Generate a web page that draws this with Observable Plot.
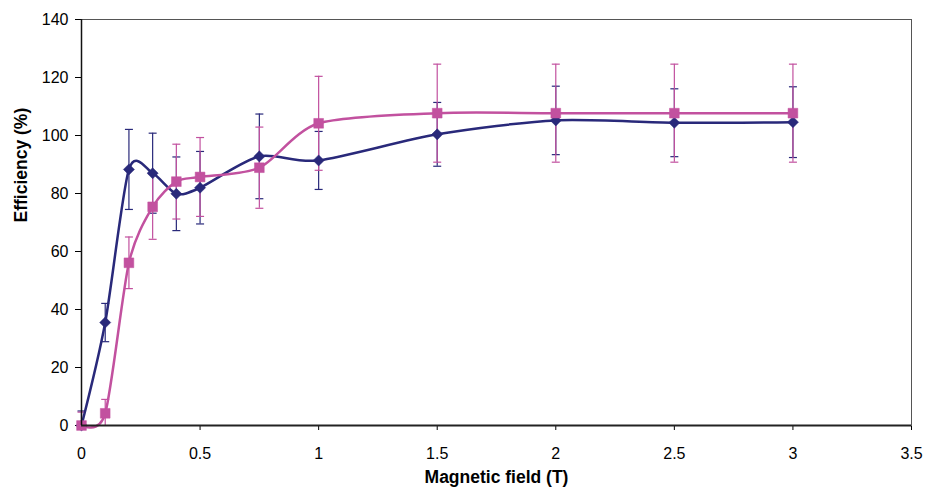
<!DOCTYPE html>
<html>
<head>
<meta charset="utf-8">
<script src="https://cdn.jsdelivr.net/npm/d3@7"></script>
<script src="https://cdn.jsdelivr.net/npm/@observablehq/plot@0.6"></script>
<style>
  html, body { margin: 0; padding: 0; background: #fff; }
  #chart svg { display: block; }
</style>
</head>
<body>
<div id="chart"></div>
<script>
// Data
const fields   = [0, 0.1, 0.2, 0.3, 0.4, 0.5, 0.75, 1, 1.5, 2, 2.5, 3];
const blueEff  = [0, 35.5, 88.3, 87.0, 79.9, 82.0, 92.8, 91.4, 100.4, 105.2, 104.4, 104.6];
const blueErr  = [5.0, 6.6, 13.8, 13.8, 12.7, 12.5, 14.6, 10.0, 11.0, 11.8, 11.7, 12.2];
const pinkEff  = [0, 4.2, 56.1, 75.4, 84.1, 85.7, 88.9, 104.2, 107.7, 107.7, 107.7, 107.7];
const pinkErr  = [4.6, 4.8, 8.9, 11.2, 12.9, 13.6, 14.0, 16.2, 16.9, 16.9, 16.9, 16.9];
const xTicks   = [0, 0.5, 1, 1.5, 2, 2.5, 3, 3.5];
const yTicks   = [0, 20, 40, 60, 80, 100, 120, 140];

const navy = "#29297a";
const pink = "#c2519f";

const blue = fields.map((x, i) => ({x, y: blueEff[i], e: blueErr[i]}));
const mag  = fields.map((x, i) => ({x, y: pinkEff[i], e: pinkErr[i]}));

// horizontal cap symbol for error bars
const cap = {
  draw(ctx, size) {
    const w = Math.sqrt(size / Math.PI);
    ctx.moveTo(-w, 0);
    ctx.lineTo(w, 0);
  }
};

function errorMarks(data, color) {
  return [
    Plot.ruleX(data, {x: "x", y1: d => Math.max(0, d.y - d.e), y2: d => d.y + d.e, stroke: color, strokeWidth: 1.2}),
    Plot.dot(data, {x: "x", y: d => d.y + d.e, symbol: cap, r: 4, stroke: color, strokeWidth: 1.2, fill: "none"}),
    Plot.dot(data.filter(d => d.y - d.e >= 0), {x: "x", y: d => d.y - d.e, symbol: cap, r: 4, stroke: color, strokeWidth: 1.2, fill: "none"})
  ];
}

const chart = Plot.plot({
  width: 927,
  height: 497,
  marginLeft: 81,
  marginRight: 16,
  marginTop: 19,
  marginBottom: 72,
  style: {fontFamily: "'Liberation Sans', Arial, sans-serif", fontSize: "16px", color: "#000", background: "#fff"},
  x: {domain: [0, 3.5], ticks: xTicks, tickFormat: d => String(d), tickSize: 5, tickPadding: 17, label: null},
  y: {domain: [0, 140], ticks: yTicks, tickFormat: d => String(d), tickSize: 6, tickPadding: 7, label: null},
  marks: [
    Plot.frame({stroke: "#555", strokeWidth: 1}),
    ...errorMarks(blue, navy),
    ...errorMarks(mag, pink),
    Plot.line(blue, {x: "x", y: "y", stroke: navy, strokeWidth: 2.5, curve: "cardinal", tension: 0.2}),
    Plot.line(mag, {x: "x", y: "y", stroke: pink, strokeWidth: 2.5, curve: "cardinal", tension: 0.2}),
    Plot.dot(blue, {x: "x", y: "y", symbol: "diamond2", r: 5, fill: navy, stroke: navy, strokeWidth: 0.5}),
    Plot.dot(mag, {x: "x", y: "y", symbol: "square", r: 5.5, fill: pink, stroke: pink, strokeWidth: 0.5}),
    Plot.ruleY([0], {stroke: "#222", strokeWidth: 2}),
    Plot.ruleX([0], {stroke: "#111", strokeWidth: 1.5}),
    Plot.text(["Magnetic field (T)"], {frameAnchor: "bottom", dy: 57, fontWeight: "bold", fontSize: 17.5, fill: "#000"}),
    Plot.text(["Efficiency (%)"], {frameAnchor: "left", dx: -60, dy: 0, rotate: -90, fontWeight: "bold", fontSize: 17.5, fill: "#000"})
  ]
});
document.getElementById("chart").appendChild(chart);
</script>
</body>
</html>
